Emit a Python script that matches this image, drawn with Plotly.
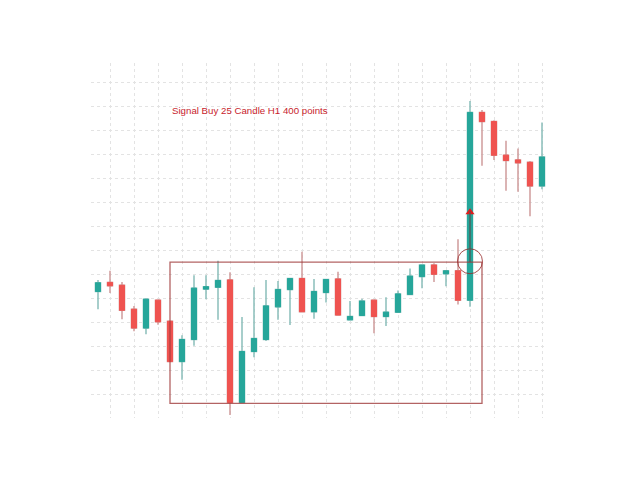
import plotly.graph_objects as go

# Candle index (H1 bars) and OHLC values
bars = list(range(38))
opens = [1215, 1234, 1228, 1178, 1139, 1197, 1153, 1069, 1115, 1220,
         1224, 1239, 984, 1090, 1115, 1183, 1219, 1242, 1173, 1213,
         1241, 1156, 1165, 1197, 1163, 1172, 1209, 1246, 1270, 1252,
         1258, 1197, 1588, 1569, 1499, 1489, 1484, 1435]
highs = [1239, 1258, 1235, 1185, 1200, 1198, 1153, 1124, 1249, 1249,
         1279, 1255, 1162, 1224, 1239, 1237, 1243, 1298, 1241, 1241,
         1256, 1195, 1200, 1198, 1203, 1217, 1263, 1271, 1274, 1259,
         1324, 1612, 1593, 1572, 1529, 1513, 1487, 1567]
lows = [1178, 1212, 1157, 1132, 1126, 1146, 1069, 1031, 1102, 1199,
        1156, 958, 983, 1078, 1112, 1156, 1145, 1172, 1158, 1192,
        1165, 1155, 1164, 1128, 1143, 1171, 1207, 1222, 1235, 1226,
        1188, 1183, 1477, 1489, 1425, 1423, 1372, 1428]
closes = [1233, 1227, 1176, 1139, 1199, 1152, 1069, 1115, 1222, 1225,
          1238, 984, 1090, 1117, 1185, 1219, 1242, 1173, 1215, 1240,
          1166, 1163, 1195, 1163, 1172, 1210, 1247, 1270, 1251, 1258,
          1197, 1588, 1569, 1499, 1488, 1483, 1435, 1495]

# Annotation geometry (in data units)
box_x = [6, 32]
box_y = [982, 1276]
signal_bar = 31
circle_y = [1252, 1304]
arrow_y = [1276, 1382]
arrow_tip = 1386
label_text = "Signal Buy 25 Candle H1 400 points"
label_pos = (6, 1592)

GREEN = "#26a69a"
RED = "#ef5350"
GREEN_WICK = "#8bbfba"
RED_WICK = "#cf9c9c"

body_hi = [max(o, c) for o, c in zip(opens, closes)]
body_lo = [min(o, c) for o, c in zip(opens, closes)]

fig = go.Figure()
# wicks
fig.add_trace(go.Candlestick(
    x=bars, open=opens, high=highs, low=lows, close=closes,
    increasing=dict(line=dict(color=GREEN_WICK, width=1.5), fillcolor=GREEN),
    decreasing=dict(line=dict(color=RED_WICK, width=1.5), fillcolor=RED),
    showlegend=False, hoverinfo="skip",
))
# bodies
fig.add_trace(go.Candlestick(
    x=bars, open=opens, high=body_hi, low=body_lo, close=closes,
    increasing=dict(line=dict(color=GREEN, width=1), fillcolor=GREEN),
    decreasing=dict(line=dict(color=RED, width=1), fillcolor=RED),
    showlegend=False,
))

# arrow head
fig.add_trace(go.Scatter(
    x=[signal_bar], y=[arrow_tip - 6], mode="markers",
    marker=dict(symbol="triangle-up", size=8, color="#e31a1a"),
    showlegend=False, hoverinfo="skip",
))

fig.add_shape(type="rect", x0=box_x[0], x1=box_x[1], y0=box_y[0], y1=box_y[1],
              line=dict(color="rgba(160,60,60,0.8)", width=1.3))
fig.add_shape(type="circle", x0=signal_bar - 1.04, x1=signal_bar + 1.04,
              y0=circle_y[0], y1=circle_y[1],
              line=dict(color="rgba(150,40,40,0.8)", width=1))
fig.add_shape(type="line", x0=signal_bar, x1=signal_bar, y0=arrow_y[0], y1=arrow_y[1],
              line=dict(color="rgba(85,85,85,0.85)", width=1.5))

fig.add_annotation(x=label_pos[0], y=label_pos[1], text=label_text, showarrow=False,
                   xanchor="left", yanchor="middle",
                   font=dict(family="Liberation Sans, Arial", size=9.7, color="#c8232c"))

fig.update_layout(
    width=640, height=480,
    margin=dict(l=83, r=101, t=55, b=70),
    paper_bgcolor="white", plot_bgcolor="white",
    boxgap=0.4,
    showlegend=False,
)
fig.update_xaxes(range=[-0.583, 37.417], tick0=1, dtick=2, showticklabels=False,
                 showgrid=True, gridcolor="#e3e3e3", griddash="dot", gridwidth=1,
                 zeroline=False, showline=False, ticks="",
                 rangeslider=dict(visible=False))
fig.update_yaxes(range=[951.5, 1691], tick0=1000, dtick=50, showticklabels=False,
                 showgrid=True, gridcolor="#e3e3e3", griddash="dot", gridwidth=1,
                 zeroline=False, showline=False, ticks="")

fig.write_html("out.html")
